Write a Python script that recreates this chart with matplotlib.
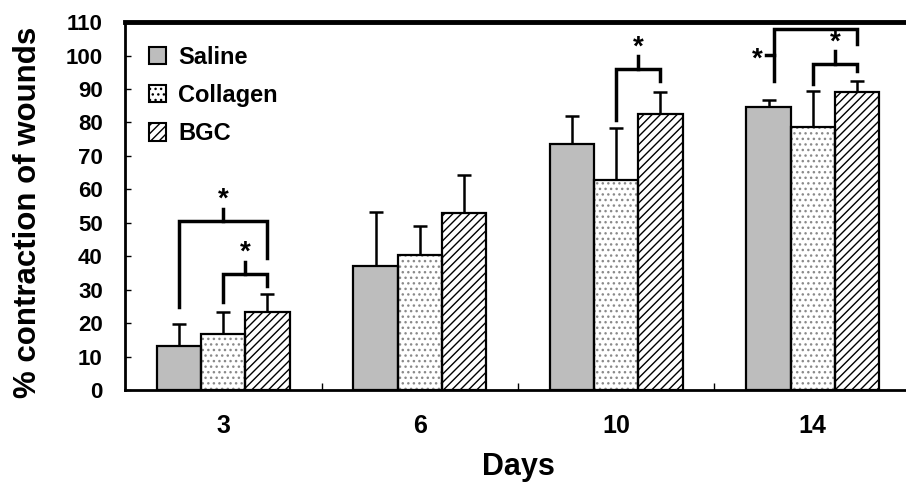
import matplotlib
matplotlib.use("Agg")
import matplotlib.pyplot as plt
import numpy as np

plt.rcParams['font.family'] = ['Liberation Sans', 'DejaVu Sans']
plt.rcParams['font.weight'] = 'bold'
plt.rcParams['axes.labelweight'] = 'bold'
plt.rcParams['hatch.linewidth'] = 1.0

days = ['3', '6', '10', '14']
groups = ['Saline', 'Collagen', 'BGC']
means = {
    'Saline':   [13.3, 37.1, 73.4, 84.5],
    'Collagen': [16.8, 40.5, 62.7, 78.5],
    'BGC':      [23.4, 52.8, 82.5, 89.1],
}
errors = {
    'Saline':   [6.5, 16.0, 8.5, 2.3],
    'Collagen': [6.5, 8.6, 15.6, 11.0],
    'BGC':      [5.3, 11.6, 6.5, 3.4],
}

# significance brackets: (day index, bar a, bar b, leg a bottom, top, leg b bottom)
brackets = [
    (0, 0, 2, 24.8, 50.4, 39.5),
    (0, 1, 2, 26.4, 34.6, 31.1),
    (2, 1, 2, 80.8, 96.0, 92.3),
    (3, 1, 2, 91.5, 97.5, 95.3),
]

fig = plt.figure(figsize=(9.06, 4.88), dpi=100)
ax = fig.add_axes([0.138, 0.2008, 0.8675, 0.754])

w = 0.225
x = np.arange(len(days)) + 0.5
styles = {
    'Saline':   dict(color='#bdbdbd', hatch=None, hcol='#bdbdbd'),
    'Collagen': dict(color='white', hatch='...', hcol='#8a8a8a'),
    'BGC':      dict(color='white', hatch='////', hcol='black'),
}
centers = {}
for i, g in enumerate(groups):
    pos = x + (i - 1) * w
    centers[i] = pos
    st = styles[g]
    # fill + hatch, then outline on top
    ax.bar(pos, means[g], w, color=st['color'], hatch=st['hatch'],
           edgecolor=st['hcol'], linewidth=0, zorder=2)
    ax.bar(pos, means[g], w, color='none', edgecolor='black',
           linewidth=1.6, zorder=3)
    ax.errorbar(pos, means[g], yerr=[np.zeros(4), errors[g]], fmt='none',
                ecolor='black', elinewidth=1.8, capsize=5, capthick=1.8,
                zorder=1)

# legend proxies
handles = []
for g in groups:
    st = styles[g]
    h = plt.Rectangle((0, 0), 1, 1, facecolor=st['color'], hatch=st['hatch'],
                      edgecolor='black', linewidth=1.5)
    handles.append(h)
ax.legend(handles, groups, loc='upper left', bbox_to_anchor=(0.0, 1.0),
          frameon=False, fontsize=17, handlelength=0.75, handleheight=0.75,
          handletextpad=0.5, labelspacing=0.65, borderaxespad=0.6)

lw_b = 2.5
for d, a, b, ya, top, yb in brackets:
    xa = centers[a][d]
    xb = centers[b][d]
    ax.plot([xa, xa, xb, xb], [ya, top, top, yb], color='black', lw=lw_b,
            solid_joinstyle='miter', zorder=4)
    xm = (xa + xb) / 2
    ax.plot([xm, xm], [top, top + 3.8], color='black', lw=lw_b, zorder=4)
    ax.text(xm, top + 2.6, '*', ha='center', va='bottom', fontsize=20)

# day 14 big bracket with side tick
xa = centers[0][3] + 0.03
xb = centers[2][3]
ax.plot([xa, xa, xb, xb], [92.5, 107.8, 107.8, 103.3], color='black', lw=lw_b,
        solid_joinstyle='miter', zorder=4)
ax.plot([xa - 0.045, xa], [100.3, 100.3], color='black', lw=lw_b, zorder=4)
ax.text(xa - 0.085, 95.0, '*', ha='center', va='bottom', fontsize=20)

ax.set_xlim(0, 4)
ax.set_ylim(0, 110)
ax.set_yticks(np.arange(0, 111, 10))
ax.set_xticks(x)
ax.set_xticklabels(days)
ax.set_xticks([1, 2, 3], minor=True)
ax.tick_params(axis='x', which='major', length=0, pad=17, labelsize=18)
ax.tick_params(axis='x', which='minor', direction='in', length=5, width=1)
ax.tick_params(axis='y', direction='in', length=4, width=1, labelsize=16, pad=16)
ax.spines['right'].set_visible(False)
ax.spines['top'].set_linewidth(3.5)
ax.spines['left'].set_linewidth(2)
ax.spines['bottom'].set_linewidth(2)
ax.set_xlabel('Days', fontsize=22, labelpad=10)
ax.set_ylabel('% contraction of wounds', fontsize=22.5)
ax.yaxis.set_label_coords(-0.104, 0.484)

fig.savefig('out.png', dpi=100)
